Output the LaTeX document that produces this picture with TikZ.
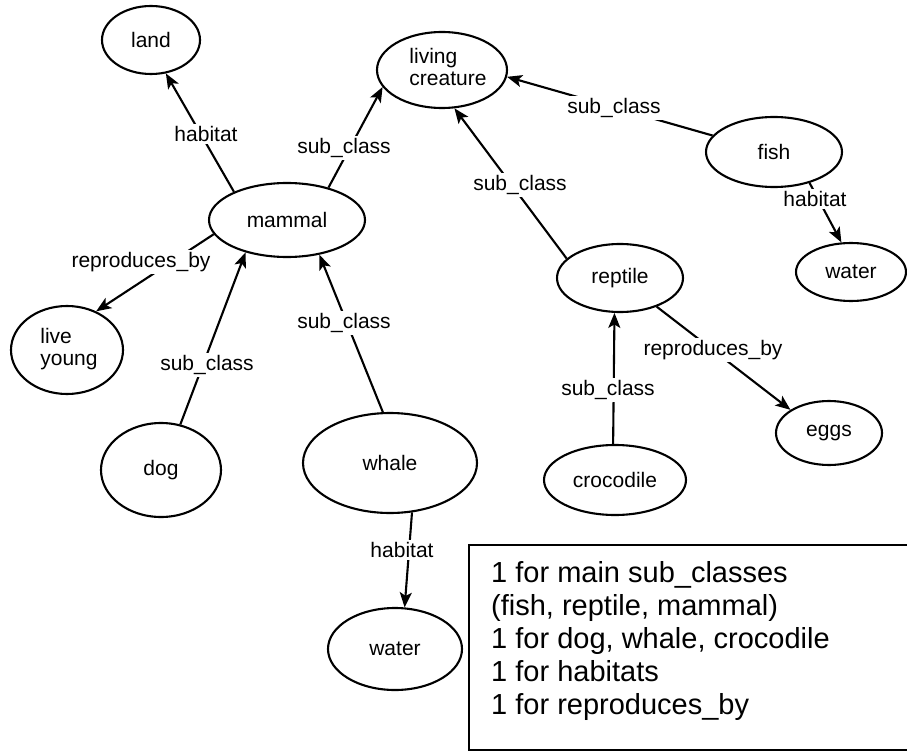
\documentclass[tikz,border=0pt]{standalone}
\usepackage{fontspec}
\setmainfont{Liberation Sans}
\usetikzlibrary{shapes.geometric,arrows.meta}
\begin{document}
\begin{tikzpicture}[x=1pt,y=-1pt,
  ent/.style={draw, ellipse, line width=2.1pt, inner sep=0pt, font=\fontsize{21}{22}\selectfont},
  rel/.style={line width=2.1pt, -{Stealth[length=15pt,width=12pt,inset=3.5pt]}},
  lbl/.style={fill=white, inner sep=2.5pt, font=\fontsize{21}{22}\selectfont},
  notebox/.style={draw, line width=2.1pt, rectangle, inner sep=0pt, anchor=north west},
  notetext/.style={inner sep=0pt, anchor=base west, font=\fontsize{29}{33.2}\selectfont}]
\useasboundingbox (0,0) rectangle (907,751);
% entities
\node[ent, minimum width=98pt, minimum height=68pt] (land) at (151,40) {land};
\node[ent, minimum width=130pt, minimum height=76pt] (living) at (442,70)
  {\begin{tabular}{@{\hspace{12pt}}l@{}}living\\creature\end{tabular}};
\node[ent, minimum width=156pt, minimum height=74pt] (mammal) at (287,220) {mammal};
\node[ent, minimum width=136pt, minimum height=70pt] (fish) at (774,152) {fish};
\node[ent, minimum width=110pt, minimum height=58pt] (waterR) at (851,272) {water};
\node[ent, minimum width=126pt, minimum height=68pt] (reptile) at (620,278) {reptile};
\node[ent, minimum width=112pt, minimum height=88pt] (young) at (67,350)
  {\begin{tabular}{@{\hspace{4pt}}l@{}}live\\young\end{tabular}};
\node[ent, minimum width=120pt, minimum height=94pt] (dog) at (161,470) {dog};
\node[ent, minimum width=174pt, minimum height=100pt] (whale) at (390,463) {whale};
\node[ent, minimum width=142pt, minimum height=70pt] (croc) at (615,480) {crocodile};
\node[ent, minimum width=106pt, minimum height=64pt] (eggs) at (829,433) {eggs};
\node[ent, minimum width=134pt, minimum height=82pt] (waterB) at (395,649) {water};
% relations
\draw[rel] (mammal.152.6) -- (land.-66) node[lbl] (l1) at (206,134) {habitat};
\draw[rel] (mammal.38) -- (living.196.3) node[lbl] (l2) at (344,148) {sub\_class};
\draw[rel] (fish.165.5) -- (living.-6.5) node[lbl] (l3) at (614,108) {sub\_class};
\draw[rel] (reptile.160) -- (living.-72.8) node[lbl] (l4) at (520,185) {sub\_class};
\draw[rel] (fish.-41.4) -- (waterR.108.4) node[lbl] (l5) at (815,199) {habitat};
\draw[rel] (mammal.191.6) -- (young.53.8) node[lbl] (l6) at (141,262) {reproduces\_by};
\draw[rel] (dog.67.6) -- (mammal.218.2) node[lbl] (l7) at (207,365) {sub\_class};
\draw[rel] (whale.98) -- (mammal.-47.4) node[lbl] (l8) at (344,323) {sub\_class};
\draw[rel] (reptile.-38.9) -- (eggs.149.4) node[lbl] (l9) at (713,350) {reproduces\_by};
\draw[rel] (croc.93.4) -- (reptile.261) node[lbl] (l10) at (608,390) {sub\_class};
\draw[rel] (whale.-66) -- (waterB.77.9) node[lbl] (l11) at (402,550) {habitat};
% note box
\node[notebox, minimum width=450pt, minimum height=205pt] (box) at (468,544) {};
\node[notetext] (notes) at (491,582) {\begin{tabular}[t]{@{}l@{}}1 for main sub\_classes\\
(fish, reptile, mammal)\\
1 for dog, whale, crocodile\\
1 for habitats\\
1 for reproduces\_by\end{tabular}};
\end{tikzpicture}
\end{document}
